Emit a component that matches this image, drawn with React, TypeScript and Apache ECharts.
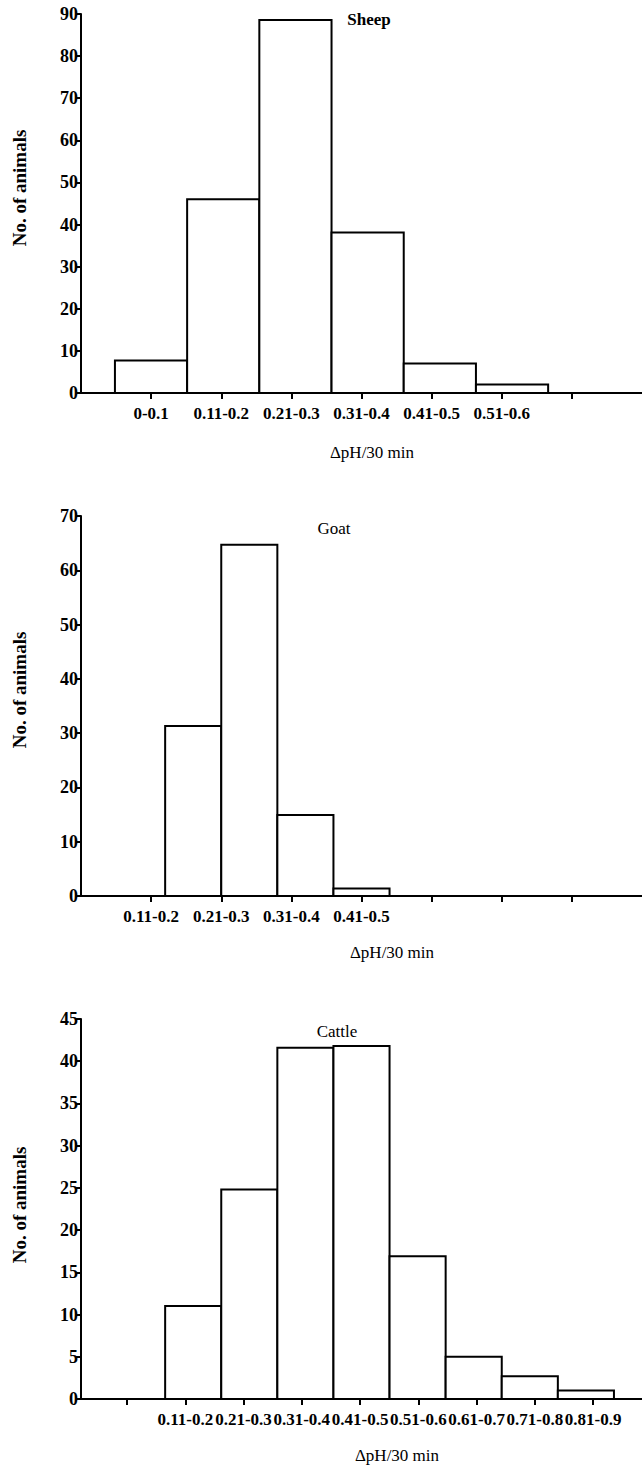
import React, { useEffect, useRef } from "react";
import * as echarts from "echarts";

// Full list of ΔpH bins (bin number = position + 1)
const allBins = ["0-0.1", "0.11-0.2", "0.21-0.3", "0.31-0.4", "0.41-0.5", "0.51-0.6", "0.61-0.7", "0.71-0.8", "0.81-0.9"];

const sheepCategories = ["0-0.1", "0.11-0.2", "0.21-0.3", "0.31-0.4", "0.41-0.5", "0.51-0.6"];
const sheepValues = [7.7, 46, 88.6, 38.1, 7, 2];

const goatCategories = ["0.11-0.2", "0.21-0.3", "0.31-0.4", "0.41-0.5"];
const goatValues = [31.3, 64.7, 14.9, 1.4];

const cattleCategories = ["0.11-0.2", "0.21-0.3", "0.31-0.4", "0.41-0.5", "0.51-0.6", "0.61-0.7", "0.71-0.8", "0.81-0.9"];
const cattleValues = [11, 24.8, 41.6, 41.8, 16.9, 5, 2.7, 1];

const panelTitles = ["Sheep", "Goat", "Cattle"];
const yMaxes = [90, 70, 45];
const ySteps = [10, 10, 5];
const xAxisTitle = "ΔpH/30 min";
const yAxisTitle = "No. of animals";

const FONT = "Liberation Serif";

// layout only
const panels = [
  {
    cats: sheepCategories, vals: sheepValues,
    top: 14, height: 379,
    tickMin: 0, tickMax: 8, ticks: [1, 2, 3, 4, 5, 6, 7],
    barMin: 0.03, barMax: 7.8,
    titleX: 369, titleY: 19, titleBold: true,
    xNameX: 372, xNameY: 452, yNameY: 188,
  },
  {
    cats: goatCategories, vals: goatValues,
    top: 516, height: 380,
    tickMin: 0, tickMax: 8, ticks: [1, 2, 3, 4, 5, 6, 7],
    barMin: 0, barMax: 10,
    titleX: 334, titleY: 528, titleBold: false,
    xNameX: 392, xNameY: 952, yNameY: 690,
  },
  {
    cats: cattleCategories, vals: cattleValues,
    top: 1019, height: 380,
    tickMin: -0.79, tickMax: 8.84, ticks: [0, 1, 2, 3, 4, 5, 6, 7, 8],
    barMin: 0, barMax: 10,
    titleX: 337, titleY: 1031, titleBold: false,
    xNameX: 397, xNameY: 1455, yNameY: 1205,
  },
];

export default function App() {
  const ref = useRef<HTMLDivElement>(null);

  useEffect(() => {
    if (!ref.current) return;
    const chart = echarts.init(ref.current, undefined, { renderer: "svg" });

    const grids: any[] = [];
    const xAxes: any[] = [];
    const yAxes: any[] = [];
    const series: any[] = [];
    const graphics: any[] = [];

    panels.forEach((p, i) => {
      grids.push({ left: 81, right: 0, top: p.top, height: p.height, containLabel: false });
      const labelVals = p.cats.map((_, k) => k + 1);
      // visible tick axis
      xAxes.push({
        type: "value",
        gridIndex: i,
        min: p.tickMin,
        max: p.tickMax,
        axisLine: { show: true, onZero: false, lineStyle: { color: "#000", width: 2 } },
        axisTick: { show: true, customValues: p.ticks, length: 6, lineStyle: { color: "#000", width: 2 } },
        axisLabel: {
          show: true,
          customValues: labelVals,
          formatter: (v: number) => p.cats[Math.round(v) - 1] ?? "",
          color: "#000",
          fontFamily: FONT,
          fontWeight: "bold",
          fontSize: 17,
          margin: 12,
        },
        splitLine: { show: false },
      });
      // hidden bin axis for the bars
      xAxes.push({
        type: "value",
        gridIndex: i,
        min: p.barMin,
        max: p.barMax,
        show: false,
        splitLine: { show: false },
      });
      yAxes.push({
        type: "value",
        gridIndex: i,
        min: 0,
        max: yMaxes[i],
        interval: ySteps[i],
        axisLine: { show: true, onZero: false, lineStyle: { color: "#000", width: 2 } },
        axisTick: { show: true, length: 5, lineStyle: { color: "#000", width: 2 } },
        axisLabel: {
          color: "#000",
          fontFamily: FONT,
          fontWeight: "bold",
          fontSize: 18,
          margin: 3,
        },
        splitLine: { show: false },
      });
      series.push({
        type: "custom",
        xAxisIndex: i * 2 + 1,
        yAxisIndex: i,
        data: p.vals.map((v, k) => [allBins.indexOf(p.cats[k]) + 1, v]),
        encode: { x: 0, y: 1 },
        renderItem: (params: any, api: any) => {
          const x = api.value(0);
          const y = api.value(1);
          const a = api.coord([x - 0.5, y]);
          const b = api.coord([x + 0.5, 0]);
          return {
            type: "rect",
            shape: { x: a[0], y: a[1], width: b[0] - a[0], height: b[1] - a[1] },
            style: { fill: "#fff", stroke: "#000", lineWidth: 2 },
          };
        },
        z: 3,
      });
      graphics.push({
        type: "text",
        x: p.titleX,
        y: p.titleY,
        style: {
          text: panelTitles[i],
          fill: "#000",
          fontFamily: FONT,
          fontSize: 17,
          fontWeight: p.titleBold ? "bold" : "normal",
          align: "center",
          verticalAlign: "middle",
        },
      });
      graphics.push({
        type: "text",
        x: p.xNameX,
        y: p.xNameY,
        style: {
          text: xAxisTitle,
          fill: "#000",
          fontFamily: FONT,
          fontSize: 17,
          align: "center",
          verticalAlign: "middle",
        },
      });
      graphics.push({
        type: "text",
        x: 19,
        y: p.yNameY,
        rotation: Math.PI / 2,
        style: {
          text: yAxisTitle,
          fill: "#000",
          fontFamily: FONT,
          fontSize: 19,
          fontWeight: "bold",
          align: "center",
          verticalAlign: "middle",
        },
      });
    });

    chart.setOption({
      animation: false,
      backgroundColor: "#fff",
      grid: grids,
      xAxis: xAxes,
      yAxis: yAxes,
      series,
      graphic: graphics,
    });

    return () => chart.dispose();
  }, []);

  return (
    <div
      ref={ref}
      style={{ position: "absolute", left: 0, top: 0, width: 642, height: 1468, background: "#fff" }}
    />
  );
}
